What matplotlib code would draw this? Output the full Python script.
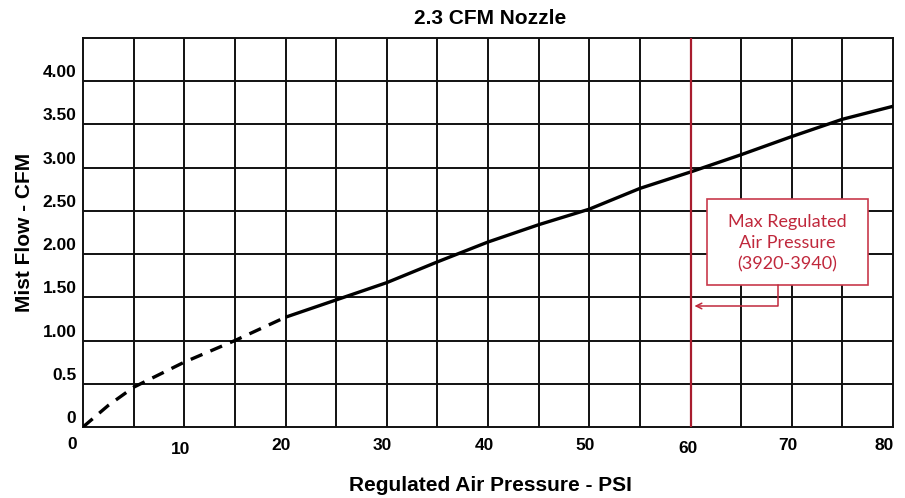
import matplotlib
matplotlib.use("Agg")
import matplotlib.pyplot as plt
from matplotlib.patches import Rectangle
from matplotlib.transforms import ScaledTranslation

# data
x_dash = [0, 2.5, 5, 10, 15, 20]
y_dash = [0, 0.25, 0.46, 0.75, 1.0, 1.27]
x_solid = [20, 25, 30, 35, 40, 45, 50, 55, 60, 65, 70, 75, 80]
y_solid = [1.27, 1.47, 1.67, 1.91, 2.14, 2.34, 2.52, 2.76, 2.95, 3.15, 3.36, 3.56, 3.71]

x_ticks = [0, 10, 20, 30, 40, 50, 60, 70, 80]
y_ticks = [0, 0.5, 1, 1.5, 2, 2.5, 3, 3.5, 4]
y_labels = ["0", "0.5", "1.00", "1.50", "2.00", "2.50", "3.00", "3.50", "4.00"]
max_psi = 60
note = "Max Regulated\nAir Pressure\n(3920-3940)"

plt.rcParams["font.family"] = ["Liberation Sans", "DejaVu Sans"]
red = "#a81c2e"
note_red = "#c0283c"

fig = plt.figure(figsize=(9.05, 4.98), dpi=100)
ax = fig.add_axes([83 / 905, 1 - 427 / 498, 810 / 905, 389 / 498])
ax.set_xlim(0, 80)
ax.set_ylim(0, 4.5)

# grid every 5 psi / 0.5 cfm
for gx in range(5, 80, 5):
    ax.axvline(gx, color="#111111", lw=1.4, zorder=1)
for gy in [0.5, 1, 1.5, 2, 2.5, 3, 3.5, 4]:
    ax.axhline(gy, color="#111111", lw=1.4, zorder=1)
for s in ax.spines.values():
    s.set_linewidth(1.4)
    s.set_color("#111111")

ax.plot(x_dash, y_dash, color="black", lw=2.4, dashes=(3.8, 2.6), zorder=3)
ax.plot(x_solid, y_solid, color="black", lw=2.4, solid_capstyle="butt", zorder=3)
ax.axvline(max_psi, color=red, lw=1.6, zorder=4)

ax.set_xticks(x_ticks)
ax.set_xticklabels([str(v) for v in x_ticks], fontsize=12.5, fontweight="bold")
ax.set_yticks(y_ticks)
ax.set_yticklabels(y_labels, fontsize=12.5, fontweight="bold")
ax.tick_params(length=0, pad=4)

# the labels in the original sit a little off their lines
x_shift = {0: (-11, -4), 10: (-4, -9), 20: (-4, -5), 60: (-3, -8), 80: (-9, -5)}
for v, lab in zip(x_ticks, ax.get_xticklabels()):
    dx, dy = x_shift.get(v, (-4, -5))
    lab.set_transform(lab.get_transform() + ScaledTranslation(dx / 100, dy / 100, fig.dpi_scale_trans))
for lab in ax.get_yticklabels():
    lab.set_transform(lab.get_transform() + ScaledTranslation(-1 / 100, 10 / 100, fig.dpi_scale_trans))

fig.text(490 / 905, 1 - 18 / 498, "2.3 CFM Nozzle", ha="center", va="center",
         fontsize=15, fontweight="bold")
fig.text(490 / 905, 1 - 485 / 498, "Regulated Air Pressure - PSI", ha="center", va="center",
         fontsize=15, fontweight="bold")
fig.text(25 / 905, 1 - 232 / 498, "Mist Flow - CFM", ha="center", va="center",
         rotation=90, fontsize=15, fontweight="bold")

# callout box
ax.add_patch(Rectangle((61.63, 1.643), 15.9, 0.995, fc="white", ec="#c8394b", lw=1.2, zorder=5))
ax.text(69.58, 2.125, note, ha="center", va="center", color=note_red, fontsize=13,
        family=["Lato", "DejaVu Sans"], linespacing=1.4, zorder=6)
ax.annotate("", xy=(60.4, 1.40), xytext=(68.6, 1.643),
            arrowprops=dict(arrowstyle="->", color=note_red, lw=1.1,
                            shrinkA=0, shrinkB=0,
                            connectionstyle="angle,angleA=90,angleB=0,rad=0"),
            zorder=6)

fig.savefig("out.png", dpi=100)
